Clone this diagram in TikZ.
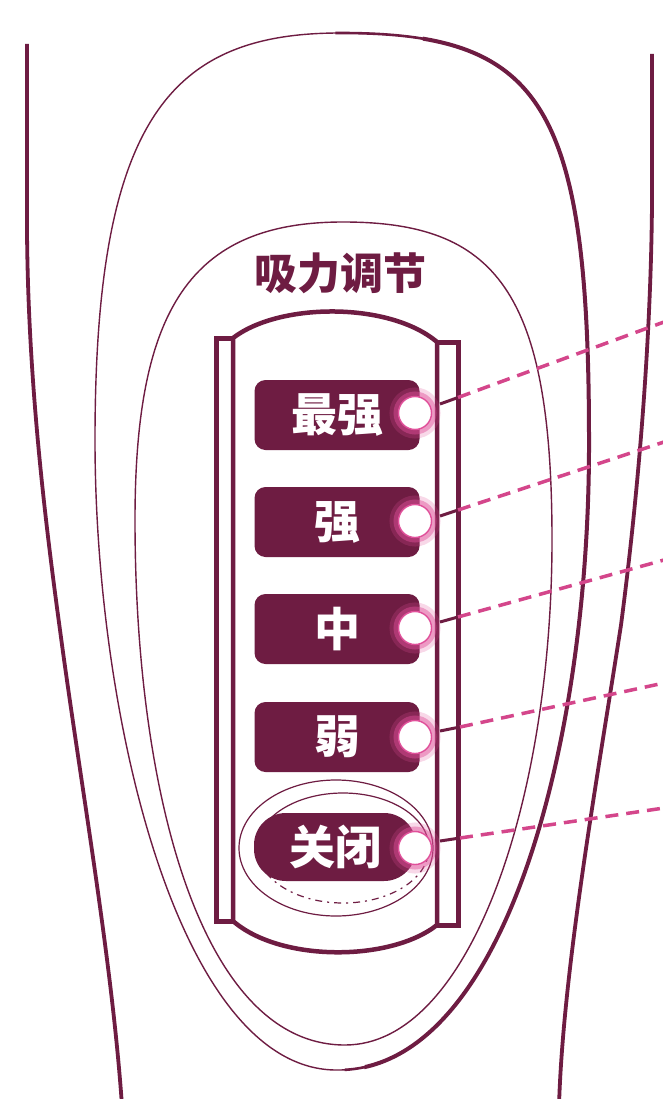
\documentclass[tikz,border=0pt]{standalone}
\usepackage{fontspec}
\newfontfamily\cjk{Noto Sans CJK SC}
\definecolor{maroon}{HTML}{6E1C42}
\definecolor{glowpink}{HTML}{E0509A}
\definecolor{dashpink}{HTML}{D4468B}
\begin{document}
\begin{tikzpicture}[x=1pt,y=-1pt,
  body/.style={draw=maroon, line width=3.8pt},
  thinline/.style={draw=maroon, line width=1.4pt},
  railline/.style={draw=maroon, line width=5pt, line join=miter},
  arch/.style={draw=maroon, line width=4.5pt},
  btn/.style={fill=maroon, rounded corners=11pt, minimum width=165pt, minimum height=70pt,
     inner sep=0pt, text=white, font=\cjk\bfseries\fontsize{46}{46}\selectfont},
  lamp/.style={circle, fill=white, draw=glowpink, line width=1.4pt, minimum size=33pt, inner sep=0pt,
     preaction={draw=glowpink, line width=18pt, opacity=0.22},
     preaction={draw=glowpink, line width=10pt, opacity=0.45}},
  leader/.style={draw=dashpink, line width=3.5pt, dash pattern=on 13pt off 8pt},
  stub/.style={draw=maroon, line width=3pt},
  titletext/.style={text=maroon, inner sep=0pt, font=\cjk\bfseries\fontsize{43}{43}\selectfont},
]
\useasboundingbox (0,0) rectangle (662,1099);
\fill[white] (0,0) rectangle (662,1099);

% body outline
\draw[body] (27,44) -- (27,230) .. controls (28,380) and (45,520) .. (60,630)
   .. controls (80,780) and (112,960) .. (122,1106);
\draw[body] (652,54) -- (652,203) .. controls (651,330) and (640,480) .. (621,625)
   .. controls (597,780) and (563,970) .. (559,1106);

% outer oval (thin on the left, thicker on the right)
\def\outeroval{(340,33) .. controls (540,33) and (589,100) .. (589,440)
   .. controls (590,740) and (505,1070) .. (338,1070)
   .. controls (180,1072) and (95,720) .. (95,440)
   .. controls (95,120) and (170,33) .. cycle}
\draw[thinline] \outeroval;
\begin{scope}
  \clip (335,0) -- (700,0) -- (700,1110) -- (345,1110) -- cycle;
  \draw[draw=maroon, line width=2.6pt] \outeroval;
\end{scope}
\begin{scope}
  \clip (425,0) -- (700,0) -- (700,1110) -- (362,1110) -- cycle;
  \draw[draw=maroon, line width=4pt] \outeroval;
\end{scope}

% inner oval
\draw[thinline] (343,222) .. controls (495,222) and (552,290) .. (552,540)
   .. controls (552,800) and (470,1045) .. (345,1045)
   .. controls (200,1045) and (135,790) .. (135,520)
   .. controls (135,310) and (190,222) .. cycle;

% title
\node[titletext] (title) at (340,273) {吸力调节};

% panel
\draw[arch] (233,921) -- (233,338) .. controls (280,302) and (390,302) .. (437,342)
   -- (437,925) .. controls (390,962) and (280,962) .. cycle;
\draw[railline] (233,338) -- (216,338) -- (216,921) -- (233,921);
\draw[railline] (437,342) -- (458,342) -- (458,925) -- (437,925);

% off ring
\draw[draw=maroon, line width=1.2pt] (336,848) ellipse [x radius=97, y radius=68];
\draw[draw=maroon, line width=1.2pt] (257,848) arc[start angle=180, end angle=360, x radius=86, y radius=55];
\draw[draw=maroon, line width=1.2pt, dash pattern=on 7pt off 5pt on 2pt off 5pt] (429,848) arc[start angle=0, end angle=180, x radius=86, y radius=55];

% buttons
\node[btn] (b1) at (337,415) {最强};
\node[btn] (b2) at (337,522) {强};
\node[btn] (b3) at (337,629) {中};
\node[btn] (b4) at (337,737) {弱};
\node[btn, rounded corners=32pt, minimum width=162pt, minimum height=68pt] (b5) at (335,847) {关闭};

% lamps
\node[lamp] (c1) at (415,413) {};
\node[lamp] (c2) at (415,521) {};
\node[lamp] (c3) at (415,628) {};
\node[lamp] (c4) at (415,737) {};
\node[lamp] (c5) at (415,848) {};

% leader lines
\coordinate (k1) at (440,404); \coordinate (s1) at (458,397.5); \coordinate (e1) at (664,322);
\coordinate (k2) at (440,516); \coordinate (s2) at (458,510);   \coordinate (e2) at (664,442);
\coordinate (k3) at (440,622); \coordinate (s3) at (458,617);   \coordinate (e3) at (664,560);
\coordinate (k4) at (440,731); \coordinate (s4) at (460,727);   \coordinate (e4) at (664,683);
\coordinate (k5) at (440,841); \coordinate (s5) at (460,838);   \coordinate (e5) at (664,808);
\foreach \i in {1,...,5}{
  \draw[stub] (k\i) -- (s\i);
  \draw[leader] (s\i) -- (e\i);
}
\end{tikzpicture}
\end{document}
